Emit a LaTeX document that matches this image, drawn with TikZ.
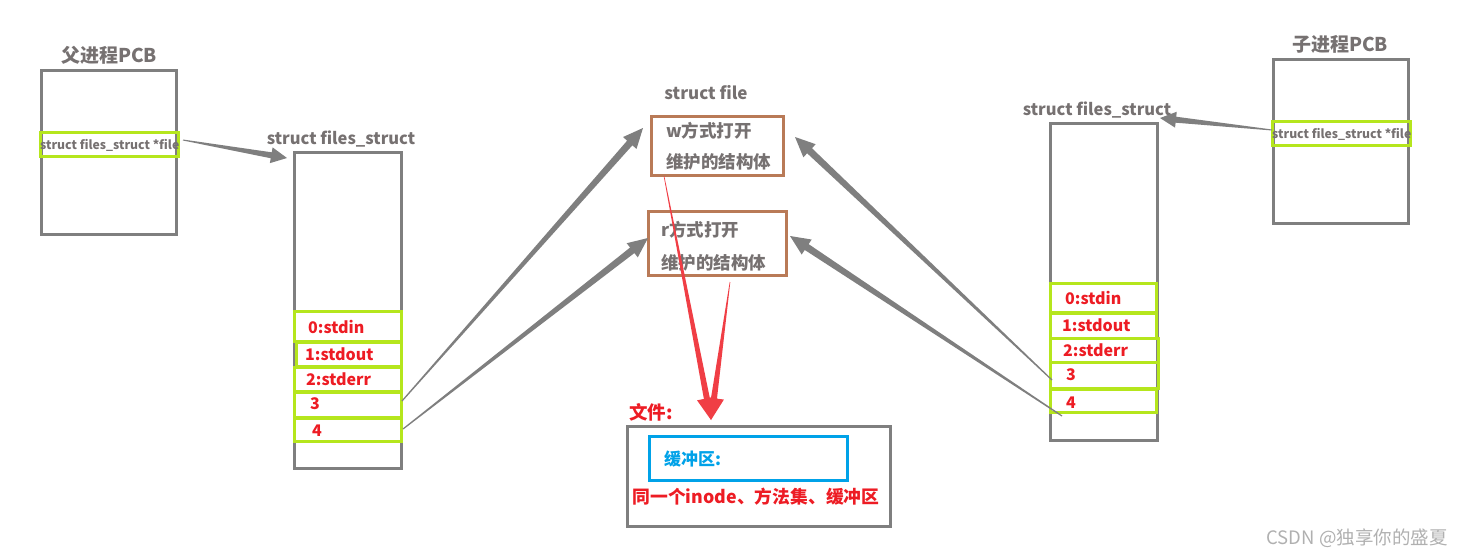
\documentclass[tikz,border=0pt]{standalone}
\usepackage{fontspec}
\setmainfont{Noto Sans CJK SC}
\usetikzlibrary{calc}
\definecolor{bgray}{HTML}{7F7F7F}
\definecolor{tgray}{HTML}{767171}
\definecolor{lgreen}{HTML}{B5E61D}
\definecolor{fred}{HTML}{ED1C24}
\definecolor{brownc}{HTML}{B97A57}
\definecolor{bluec}{HTML}{00A2E8}
\definecolor{wmark}{HTML}{B0B0B0}
% tapered arrow: #1 start, #2 tip, #3 half start width, #4 half end width, #5 half head width, #6 head length, #7 colour
\newcommand{\taperarrow}[7]{%
  \fill[#7] ($(#1)!#3!90:(#2)$) -- ($($(#2)!#6!(#1)$)!#4!-90:(#1)$) -- ($($(#2)!#6!(#1)$)!#5!-90:(#1)$) -- (#2)
    -- ($($(#2)!#6!(#1)$)!#5!90:(#1)$) -- ($($(#2)!#6!(#1)$)!#4!90:(#1)$) -- ($(#1)!#3!-90:(#2)$) -- cycle;}
\tikzset{
  graybox/.style={draw=bgray, line width=3pt, inner sep=0pt, outer sep=0pt, anchor=north west},
  greenrow/.style={draw=lgreen, line width=3pt, inner sep=0pt, outer sep=0pt, anchor=north west},
  brownbox/.style={draw=brownc, line width=3pt, inner sep=0pt, outer sep=0pt, anchor=north west},
  bluebox/.style={draw=bluec, line width=3pt, inner sep=0pt, outer sep=0pt, anchor=north west},
  title/.style={text=tgray, font=\fontsize{16.5}{18}\selectfont\bfseries, inner sep=0pt},
  pcbtitle/.style={text=tgray, font=\fontsize{19}{21}\selectfont\bfseries, inner sep=0pt},
  small/.style={text=tgray, font=\fontsize{12.2}{13}\selectfont\bfseries, inner sep=0pt, anchor=west},
  redlbl/.style={text=fred, font=\fontsize{16}{18}\selectfont\bfseries, inner sep=0pt, anchor=west},
  cjk/.style={text=tgray, font=\fontsize{17.5}{19}\selectfont\bfseries, inner sep=0pt, anchor=west},
}
\begin{document}
\begin{tikzpicture}[x=1pt,y=-1pt]
\useasboundingbox (0,0) rectangle (1467,557);
% ---------- parent PCB ----------
\node[pcbtitle] (ptitle) at (109,55) {父进程PCB};
\node[graybox, minimum width=135pt, minimum height=164pt] (ppcb) at (41,70) {};
\node[greenrow, minimum width=138pt, minimum height=24pt] (prow) at (40,132) {};
\node[small] (ptxt) at (40,145) {struct files\_struct *file};
% ---------- left files_struct ----------
\node[title] (lftitle) at (341,139) {struct files\_struct};
\node[graybox, minimum width=107pt, minimum height=316pt] (lfs) at (294,152) {};
\node[greenrow, minimum width=107pt, minimum height=30pt] (l0) at (294,311) {};
\node[greenrow, minimum width=105pt, minimum height=24pt] (l1) at (296,342) {};
\node[greenrow, minimum width=107pt, minimum height=24pt] (l2) at (294,367) {};
\node[greenrow, minimum width=107pt, minimum height=25pt] (l3) at (294,392) {};
\node[greenrow, minimum width=107pt, minimum height=23pt] (l4) at (294,418) {};
\node[redlbl] (l0t) at (308,327) {0:stdin};
\node[redlbl] (l1t) at (305,354) {1:stdout};
\node[redlbl] (l2t) at (306,379) {2:stderr};
\node[redlbl] (l3t) at (310,404) {3};
\node[redlbl] (l4t) at (312,431) {4};
% ---------- struct file ----------
\node[title, font=\fontsize{17}{19}\selectfont\bfseries] (sftitle) at (706,93) {struct file};
\node[brownbox, minimum width=132pt, minimum height=59pt] (wbox) at (651,116) {};
\node[cjk] (wt1) at (666,131) {w方式打开};
\node[cjk] (wt2) at (666,162) {维护的结构体};
\node[brownbox, minimum width=138pt, minimum height=64pt] (rbox) at (648,211) {};
\node[cjk] (rt1) at (661,230) {r方式打开};
\node[cjk] (rt2) at (661,263) {维护的结构体};
% ---------- file ----------
\node[text=fred, font=\fontsize{18.5}{20}\selectfont\bfseries, inner sep=0pt] (ftitle) at (651,412) {文件:};
\node[graybox, minimum width=263pt, minimum height=100pt] (filebox) at (627,426) {};
\node[bluebox, minimum width=198pt, minimum height=44pt] (buf) at (649,436) {};
\node[text=bluec, font=\fontsize{17}{19}\selectfont\bfseries, inner sep=0pt, anchor=west] (buft) at (664,459) {缓冲区:};
\node[text=fred, font=\fontsize{17.8}{19}\selectfont\bfseries, inner sep=0pt] (same) at (756,497) {同一个inode、方法集、缓冲区};
% ---------- right files_struct ----------
\node[title] (rftitle) at (1097,110) {struct files\_struct};
\node[graybox, minimum width=107pt, minimum height=317pt] (rfs) at (1050,123) {};
\node[greenrow, minimum width=106pt, minimum height=30pt] (r0) at (1050,283) {};
\node[greenrow, minimum width=106pt, minimum height=26pt] (r1) at (1050,312) {};
\node[greenrow, minimum width=108pt, minimum height=24pt] (r2) at (1050,338) {};
\node[greenrow, minimum width=108pt, minimum height=26pt] (r3) at (1050,362) {};
\node[greenrow, minimum width=106pt, minimum height=23pt] (r4) at (1050,389) {};
\node[redlbl] (r0t) at (1065,298) {0:stdin};
\node[redlbl] (r1t) at (1062,325) {1:stdout};
\node[redlbl] (r2t) at (1063,350) {2:stderr};
\node[redlbl] (r3t) at (1066,375) {3};
\node[redlbl] (r4t) at (1066,403) {4};
% ---------- child PCB ----------
\node[pcbtitle] (ctitle) at (1340,44) {子进程PCB};
\node[graybox, minimum width=135pt, minimum height=164pt] (cpcb) at (1273,59) {};
\node[greenrow, minimum width=138pt, minimum height=24pt] (crow) at (1272,121) {};
\node[small] (ctxt) at (1272,134) {struct files\_struct *file};
% ---------- watermark ----------
\node[text=wmark, font=\fontsize{18.5}{20}\selectfont, inner sep=0pt] (wm) at (1357,538) {CSDN @独享你的盛夏};
% ---------- connector points ----------
\coordinate (a1s) at (183,140);
\coordinate (a1e) at (287,158);
\coordinate (a2s) at (1272,130);
\coordinate (a2e) at (1160,118);
\coordinate (a3s) at (402,401);
\coordinate (a3e) at (643,128);
\coordinate (a4s) at (403,429);
\coordinate (a4e) at (648,238);
\coordinate (a5s) at (1052,380);
\coordinate (a5e) at (795,137);
\coordinate (a6s) at (1062,416);
\coordinate (a6e) at (790,236);
\coordinate (a7s) at (664,176);
\coordinate (a7e) at (711,420);
\coordinate (a8s) at (730,282);
% ---------- arrows ----------
\taperarrow{a1s}{a1e}{0.5pt}{3pt}{8pt}{16pt}{bgray}
\taperarrow{a2s}{a2e}{0.5pt}{3pt}{8pt}{16pt}{bgray}
\taperarrow{a3s}{a3e}{0.6pt}{3.5pt}{9pt}{20pt}{bgray}
\taperarrow{a4s}{a4e}{0.6pt}{3.5pt}{9pt}{20pt}{bgray}
\taperarrow{a5s}{a5e}{0.6pt}{3.5pt}{9pt}{20pt}{bgray}
\taperarrow{a6s}{a6e}{0.6pt}{3.5pt}{9pt}{20pt}{bgray}
\taperarrow{a7s}{a7e}{0.3pt}{3pt}{10pt}{22pt}{fred!85!white}
\taperarrow{a8s}{a7e}{0.3pt}{3pt}{10pt}{22pt}{fred!85!white}
\end{tikzpicture}
\end{document}
